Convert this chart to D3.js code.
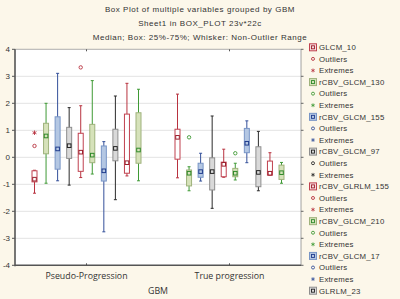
<!DOCTYPE html>
<html>
<head>
<meta charset="utf-8">
<script src="https://cdn.jsdelivr.net/npm/d3@7"></script>
<style>
  html, body { margin: 0; padding: 0; background: #fcf7ea; }
  svg { display: block; }
  .title { font-family: "Liberation Sans", Arial, sans-serif; font-size: 8px; fill: #333; letter-spacing: 0.55px; }
  .tick-label { font-family: "Liberation Sans", Arial, sans-serif; font-size: 8px; fill: #333; }
  .cat-label { font-family: "Open Sans", "DejaVu Sans", sans-serif; font-size: 8.8px; fill: #333; }
  .legend-text { font-family: "Liberation Sans", Arial, sans-serif; font-size: 7.8px; fill: #333; letter-spacing: 0.2px; }
</style>
</head>
<body>
<div id="chart"></div>
<script>
// Box plot of multiple variables grouped by GBM (Statistica style)
// Two groups on the x axis, ten variables per group, legend cut off at the bottom

const groups = ["Pseudo-Progression", "True progression"];
const legendNames = ["GLCM_10", "rCBV_GLCM_130", "rCBV_GLCM_155", "rCBV_GLCM_97",
                     "rCBV_GLRLM_155", "rCBV_GLCM_210", "rCBV_GLCM_17", "GLRLM_23"];
const yTicks = [4, 3, 2, 1, 0, -1, -2, -3, -4];

// [whisker low, q1, median, q3, whisker high] for each of the 10 variables
const pseudoStats = [
  [-1.33, -0.91, -0.81, -0.50, -0.48],
  [-0.96,  0.13,  0.79,  1.26,  2.00],
  [-0.87, -0.44,  0.31,  1.50,  3.11],
  [-1.03, -0.04,  0.43,  1.11,  1.84],
  [-0.75, -0.52,  0.19,  0.89,  1.91],
  [-0.62, -0.20,  0.08,  1.22,  2.84],
  [-2.76, -0.88, -0.50,  0.42,  0.58],
  [-1.57, -0.13,  0.33,  1.04,  2.27],
  [-0.69, -0.59, -0.20,  1.60,  2.74],
  [-0.87, -0.22,  0.27,  1.65,  2.52]
];
const trueStats = [
  [-0.76, -0.07,  0.74,  1.04,  2.34],
  [-1.24, -1.06, -0.59, -0.47, -0.35],
  [-0.88, -0.74, -0.53, -0.22,  0.15],
  [-1.89, -1.21, -0.53, -0.02,  1.53],
  [-0.74, -0.72, -0.26, -0.18,  0.30],
  [-0.84, -0.72, -0.59, -0.41, -0.22],
  [-0.20,  0.17,  0.52,  1.07,  1.35],
  [-1.24, -1.09, -0.56,  0.39,  0.96],
  [-0.66, -0.66, -0.59, -0.14,  0.17],
  [-0.96, -0.82, -0.57, -0.29, -0.19]
];
// outliers / extremes: [group, variable, value]
const outlierPoints = [[0, 0, 0.42], [0, 4, 3.33], [1, 1, 0.74], [1, 5, 0.15]];
const extremePoints = [[0, 0, 0.91]];

// styles cycle red, green, blue, gray
const styles = [
  { fill: "#ffffff", stroke: "#c0414f", whisker: "#b8323f", med: "#9c1f2c", legendFill: "#f6dbdd" },
  { fill: "#d6e2ba", stroke: "#9fb27c", whisker: "#3f9a35", med: "#2f8a2a", legendFill: "#d6e2ba" },
  { fill: "#b4c7e3", stroke: "#7895c6", whisker: "#34509a", med: "#1f3b8c", legendFill: "#b4c7e3" },
  { fill: "#d9d9d9", stroke: "#8e8e8e", whisker: "#2b2b2b", med: "#222222", legendFill: "#d9d9d9" }
];

const W = 400, H = 299;
const plot = { left: 15, right: 301, top: 49.3, bottom: 265.3 };

const svg = d3.select("#chart").append("svg")
  .attr("width", W).attr("height", H);

// titles
const titles = ["Box Plot of multiple variables grouped by  GBM",
                "Sheet1 in BOX_PLOT 23v*22c",
                "Median; Box: 25%-75%; Whisker: Non-Outlier Range"];
svg.selectAll("text.title").data(titles).join("text")
  .attr("class", "title")
  .attr("x", 200).attr("y", (d, i) => 12 + i * 14)
  .attr("text-anchor", "middle")
  .text(d => d);

// SCALES
const x = d3.scaleBand().domain(groups).range([plot.left, plot.right]);
const xInner = d3.scalePoint().domain(d3.range(10)).range([-52, 52]);
const y = d3.scaleLinear().domain([-4, 4]).range([plot.bottom, plot.top]);

// plot background
svg.append("rect")
  .attr("x", plot.left).attr("y", plot.top)
  .attr("width", plot.right - plot.left).attr("height", plot.bottom - plot.top)
  .attr("fill", "#ffffff");

// gridlines
svg.append("g").selectAll("line").data(yTicks.filter(d => d > -4 && d < 4)).join("line")
  .attr("x1", plot.left).attr("x2", plot.right)
  .attr("y1", d => y(d)).attr("y2", d => y(d))
  .attr("stroke", "#e3e3e3").attr("stroke-width", 1);

// top and right frame
svg.append("line").attr("x1", plot.left).attr("x2", plot.right)
  .attr("y1", plot.top).attr("y2", plot.top)
  .attr("stroke", "#9a9a9a").attr("stroke-width", 0.8);
svg.append("line").attr("x1", plot.right).attr("x2", plot.right)
  .attr("y1", plot.top).attr("y2", plot.bottom)
  .attr("stroke", "#8a8a8a").attr("stroke-width", 0.8);
// right ticks
svg.append("g").selectAll("line").data(yTicks).join("line")
  .attr("x1", plot.right).attr("x2", plot.right + 2.5)
  .attr("y1", d => y(d)).attr("y2", d => y(d))
  .attr("stroke", "#666");
// top ticks
svg.append("g").selectAll("line").data(groups).join("line")
  .attr("x1", d => x(d) + x.bandwidth() / 2).attr("x2", d => x(d) + x.bandwidth() / 2)
  .attr("y1", plot.top).attr("y2", plot.top + 2)
  .attr("stroke", "#555");

// BOXES
const boxW = 5, capW = 3;
[pseudoStats, trueStats].forEach((stats, gi) => {
  const cx0 = x(groups[gi]) + x.bandwidth() / 2;
  stats.forEach((s, vi) => {
    const st = styles[vi % 4];
    const cx = cx0 + xInner(vi);
    const g = svg.append("g");
    // whisker
    g.append("line").attr("x1", cx).attr("x2", cx)
      .attr("y1", y(s[0])).attr("y2", y(s[4]))
      .attr("stroke", st.whisker).attr("stroke-width", 1);
    [s[0], s[4]].forEach(v => {
      g.append("line").attr("x1", cx - capW / 2).attr("x2", cx + capW / 2)
        .attr("y1", y(v)).attr("y2", y(v))
        .attr("stroke", st.whisker).attr("stroke-width", 1);
    });
    // box
    g.append("rect")
      .attr("x", cx - boxW / 2).attr("y", y(s[3]))
      .attr("width", boxW).attr("height", Math.max(1, y(s[1]) - y(s[3])))
      .attr("fill", st.fill).attr("stroke", st.stroke).attr("stroke-width", 1);
    // median marker
    g.append("rect")
      .attr("x", cx - 1.8).attr("y", y(s[2]) - 1.8)
      .attr("width", 3.6).attr("height", 3.6)
      .attr("fill", st.fill).attr("stroke", st.med).attr("stroke-width", 1);
  });
});

// outliers & extremes
const posOf = (gi, vi) => x(groups[gi]) + x.bandwidth() / 2 + xInner(vi);
svg.append("g").selectAll("circle").data(outlierPoints).join("circle")
  .attr("cx", d => posOf(d[0], d[1])).attr("cy", d => y(d[2]))
  .attr("r", 1.7).attr("fill", "none")
  .attr("stroke", d => styles[d[1] % 4].whisker).attr("stroke-width", 0.9);
svg.append("g").selectAll("path").data(extremePoints).join("path")
  .attr("transform", d => `translate(${posOf(d[0], d[1])},${y(d[2])})`)
  .attr("d", d3.symbol(d3.symbolAsterisk, 14))
  .attr("fill", "none")
  .attr("stroke", d => styles[d[1] % 4].whisker).attr("stroke-width", 0.9);

// left axis
svg.append("line").attr("x1", plot.left).attr("x2", plot.left)
  .attr("y1", plot.top).attr("y2", plot.bottom + 1)
  .attr("stroke", "#555").attr("stroke-width", 1.6);
svg.append("g").selectAll("line").data(yTicks).join("line")
  .attr("x1", plot.left - 3).attr("x2", plot.left)
  .attr("y1", d => y(d)).attr("y2", d => y(d))
  .attr("stroke", "#555");
svg.append("g").selectAll("text").data(yTicks).join("text")
  .attr("class", "tick-label")
  .attr("x", 10).attr("y", d => y(d) + 3)
  .attr("text-anchor", "end")
  .text(d => d);

// bottom axis
svg.append("line").attr("x1", plot.left).attr("x2", plot.right)
  .attr("y1", plot.bottom).attr("y2", plot.bottom)
  .attr("stroke", "#555").attr("stroke-width", 1.6);
svg.append("g").selectAll("line").data(groups).join("line")
  .attr("x1", d => x(d) + x.bandwidth() / 2).attr("x2", d => x(d) + x.bandwidth() / 2)
  .attr("y1", plot.bottom - 2).attr("y2", plot.bottom)
  .attr("stroke", "#555");
svg.append("g").selectAll("text").data(groups).join("text")
  .attr("class", "cat-label")
  .attr("x", d => x(d) + x.bandwidth() / 2).attr("y", 279)
  .attr("text-anchor", "middle")
  .text(d => d);
svg.append("text").attr("class", "cat-label")
  .attr("x", 158).attr("y", 293.5).attr("text-anchor", "middle")
  .text("GBM");

// LEGEND (three rows per variable: box, outliers, extremes)
const legendRows = [];
legendNames.forEach((name, i) => {
  legendRows.push({ type: "box", label: name, st: styles[i % 4] });
  if (i < legendNames.length - 1) {
    legendRows.push({ type: "out", label: "Outliers", st: styles[i % 4] });
    legendRows.push({ type: "ext", label: "Extremes", st: styles[i % 4] });
  }
});
const ly = d3.scaleLinear().domain([0, legendRows.length - 1]).range([47.3, 290.7]);
const leg = svg.append("g");
legendRows.forEach((r, i) => {
  const cy = ly(i), cx = 313;
  if (r.type === "box") {
    leg.append("rect").attr("x", cx - 3.5).attr("y", cy - 3.5)
      .attr("width", 7).attr("height", 7)
      .attr("fill", r.st.legendFill).attr("stroke", r.st.stroke).attr("stroke-width", 1);
    leg.append("rect").attr("x", cx - 1.5).attr("y", cy - 1.5)
      .attr("width", 3).attr("height", 3)
      .attr("fill", "none").attr("stroke", r.st.med).attr("stroke-width", 0.9);
  } else if (r.type === "out") {
    leg.append("circle").attr("cx", cx).attr("cy", cy).attr("r", 1.5)
      .attr("fill", "none").attr("stroke", r.st.whisker).attr("stroke-width", 0.9);
  } else {
    leg.append("path").attr("transform", `translate(${cx},${cy})`)
      .attr("d", d3.symbol(d3.symbolAsterisk, 10))
      .attr("fill", "none").attr("stroke", r.st.whisker).attr("stroke-width", 0.8);
  }
  leg.append("text").attr("class", "legend-text")
    .attr("x", 319).attr("y", cy + 2.8)
    .text(r.label);
});
</script>
</body>
</html>
